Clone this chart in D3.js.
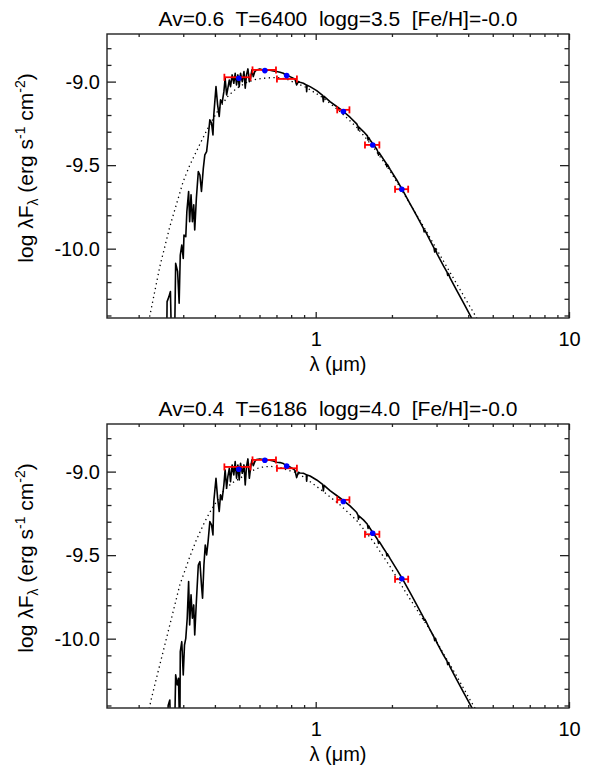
<!DOCTYPE html>
<html>
<head>
<meta charset="utf-8">
<script src="https://cdn.jsdelivr.net/npm/d3@7"></script>
<style>
  body { margin: 0; background: #fff; }
  svg { display: block; font-family: "Liberation Sans", Arial, Helvetica, sans-serif; }
</style>
</head>
<body>
<div id="chart"></div>
<script>
// ---- values ----
const titles = [
  "Av=0.6  T=6400  logg=3.5  [Fe/H]=-0.0",
  "Av=0.4  T=6186  logg=4.0  [Fe/H]=-0.0"
];

// model spectrum, [lambda (um), log lambda F_lambda]
const specTop = [
  [0.258,-10.6],[0.259,-10.317],[0.263,-10.29],[0.267,-10.257],[0.270,-10.6],
  [0.277,-10.6],[0.280,-10.088],[0.285,-10.137],[0.289,-10.327],[0.292,-10.038],[0.296,-9.978],[0.300,-10.058],
  [0.302,-9.918],[0.307,-9.928],[0.310,-9.778],[0.315,-9.658],[0.318,-9.838],[0.322,-9.678],[0.326,-9.838],
  [0.330,-9.738],[0.333,-9.888],[0.338,-9.698],[0.344,-9.539],[0.349,-9.559],[0.354,-9.658],[0.360,-9.519],
  [0.365,-9.439],[0.371,-9.419],[0.376,-9.339],[0.382,-9.229],[0.388,-9.249],[0.393,-9.319],[0.396,-9.199],
  [0.404,-9.030],[0.410,-9.139],[0.416,-9.209],[0.421,-9.109],[0.427,-9.129],[0.434,-9.060],[0.439,-8.980],
  [0.445,-9.080],[0.450,-9.040],[0.456,-8.990],[0.461,-9.030],[0.468,-8.960],[0.475,-9.010],[0.481,-8.950],
  [0.487,-9.020],[0.493,-8.960],[0.499,-9.030],[0.505,-8.950],[0.513,-9.000],[0.521,-8.940],[0.527,-9.040],
  [0.533,-8.960],[0.540,-8.924],[0.547,-9.000],[0.553,-8.980],[0.560,-8.930],[0.567,-8.970],[0.575,-8.940],
  [0.584,-8.930],[0.602,-8.924],[0.621,-8.930],[0.640,-8.930],[0.660,-8.932],[0.680,-8.936],[0.701,-8.940],
  [0.723,-8.944],[0.745,-8.950],[0.768,-8.964],[0.791,-8.970],[0.816,-8.980],[0.828,-8.984],[0.841,-9.020],
  [0.854,-9.000],[0.867,-9.004],[0.894,-9.010],[0.918,-9.020],[0.921,-9.060],[0.925,-9.022],[0.950,-9.030],
  [1.009,-9.054],[1.065,-9.082],[1.072,-9.120],[1.079,-9.088],[1.139,-9.120],[1.210,-9.149],[1.286,-9.179],
  [1.366,-9.213],[1.452,-9.253],[1.470,-9.270],[1.475,-9.290],[1.480,-9.272],[1.543,-9.299],[1.600,-9.325],
  [1.610,-9.350],[1.620,-9.335],[1.639,-9.349],[1.742,-9.405],[1.760,-9.420],[1.770,-9.440],[1.780,-9.425],
  [1.851,-9.465],[1.900,-9.490],[1.910,-9.510],[1.920,-9.497],[1.967,-9.525],[2.089,-9.589],[2.220,-9.658],
  [2.359,-9.732],[2.506,-9.804],[2.663,-9.878],[2.680,-9.900],[2.700,-9.890],[2.830,-9.952],[2.930,-9.995],
  [2.950,-10.020],[2.970,-10.000],[3.007,-10.028],[3.195,-10.103],[3.300,-10.140],[3.320,-10.160],[3.340,-10.148],
  [3.395,-10.177],[3.607,-10.251],[3.833,-10.325],[4.073,-10.399],[4.170,-10.429],[4.400,-10.500]
];

const specBot = [
  [0.260,-10.6],[0.2615,-10.40],[0.2655,-10.367],[0.268,-10.6],
  [0.277,-10.6],[0.280,-10.217],[0.284,-10.277],[0.2873,-10.237],[0.2908,-10.6],
  [0.292,-10.078],[0.296,-10.018],[0.300,-10.217],[0.3034,-10.038],[0.307,-9.998],[0.311,-9.878],[0.315,-9.658],
  [0.318,-9.918],[0.322,-9.738],[0.326,-9.878],[0.330,-9.798],[0.333,-9.978],[0.338,-9.778],[0.344,-9.559],
  [0.349,-9.539],[0.354,-9.678],[0.3575,-9.758],[0.362,-9.559],[0.3664,-9.439],[0.371,-9.499],[0.376,-9.419],
  [0.382,-9.299],[0.388,-9.319],[0.393,-9.379],[0.396,-9.179],[0.404,-9.040],[0.410,-9.159],[0.416,-9.239],
  [0.421,-9.139],[0.427,-9.169],[0.434,-9.080],[0.439,-8.990],[0.445,-9.099],[0.450,-9.030],[0.456,-8.980],
  [0.461,-9.060],[0.468,-8.960],[0.475,-9.020],[0.481,-8.940],[0.487,-9.040],[0.493,-8.960],[0.499,-9.050],
  [0.505,-8.950],[0.513,-9.010],[0.521,-8.960],[0.527,-9.080],[0.533,-8.970],[0.540,-8.924],[0.547,-9.040],
  [0.553,-8.980],[0.560,-8.930],[0.567,-8.964],[0.575,-8.940],[0.584,-8.928],[0.602,-8.924],[0.621,-8.928],
  [0.640,-8.928],[0.660,-8.932],[0.680,-8.936],[0.701,-8.944],[0.723,-8.946],[0.745,-8.952],[0.768,-8.964],
  [0.791,-8.972],[0.816,-8.984],[0.828,-8.992],[0.841,-9.036],[0.854,-9.004],[0.867,-9.008],[0.894,-9.010],
  [0.918,-9.018],[0.921,-9.058],[0.925,-9.020],[0.950,-9.026],[1.009,-9.050],[1.065,-9.076],[1.072,-9.115],
  [1.079,-9.082],[1.139,-9.114],[1.210,-9.143],[1.286,-9.173],[1.366,-9.205],[1.452,-9.245],[1.470,-9.262],
  [1.475,-9.285],[1.480,-9.265],[1.543,-9.289],[1.600,-9.315],[1.610,-9.340],[1.620,-9.325],[1.639,-9.341],
  [1.742,-9.399],[1.760,-9.410],[1.770,-9.430],[1.780,-9.418],[1.851,-9.459],[1.900,-9.485],[1.910,-9.505],
  [1.920,-9.492],[1.967,-9.521],[2.089,-9.585],[2.220,-9.652],[2.359,-9.724],[2.506,-9.798],[2.663,-9.872],
  [2.680,-9.890],[2.700,-9.884],[2.830,-9.948],[2.930,-9.990],[2.950,-10.012],[2.970,-9.998],[3.007,-10.024],
  [3.195,-10.098],[3.300,-10.135],[3.320,-10.155],[3.340,-10.143],[3.395,-10.171],[3.607,-10.247],[3.833,-10.321],
  [4.073,-10.395],[4.170,-10.423],[4.400,-10.500]
];

// dotted comparison curve
const bbTop = [
  [0.221,-10.407],[0.2424,-10.108],[0.2655,-9.868],[0.2997,-9.599],[0.3185,-9.499],[0.3488,-9.375],
  [0.3821,-9.255],[0.4184,-9.155],[0.4516,-9.085],[0.4871,-9.040],[0.5335,-9.005],[0.584,-8.985],
  [0.640,-8.978],[0.701,-8.975],[0.768,-8.985],[0.791,-8.994],[0.921,-9.036],[1.072,-9.098],[1.247,-9.179],
  [1.452,-9.273],[1.690,-9.393],[1.967,-9.535],[2.345,-9.726],[2.690,-9.878],[3.067,-10.028],[3.498,-10.177],
  [3.987,-10.325],[4.328,-10.417],[4.500,-10.470]
];

const bbBot = [
  [0.2200,-10.42],[0.2247,-10.357],[0.2351,-10.237],[0.2498,-10.078],[0.2655,-9.918],[0.2908,-9.678],
  [0.3185,-9.509],[0.338,-9.409],[0.365,-9.299],[0.388,-9.225],[0.4314,-9.119],[0.4655,-9.070],[0.5022,-9.040],
  [0.5499,-9.000],[0.602,-8.975],[0.660,-8.968],[0.720,-8.975],[0.791,-8.995],[0.841,-9.005],[0.921,-9.045],
  [1.072,-9.119],[1.247,-9.199],[1.452,-9.293],[1.690,-9.419],[1.967,-9.569],[2.288,-9.732],[2.663,-9.888],
  [2.830,-9.948],[3.195,-10.090],[3.607,-10.225],[4.073,-10.368],[4.290,-10.425],[4.500,-10.490]
];

// photometry: filter centres and widths
const filterLam = [0.497, 0.630, 0.768, 1.286, 1.679, 2.187];
const filterLo  = [0.436, 0.563, 0.703, 1.216, 1.565, 2.057];
const filterHi  = [0.553, 0.697, 0.843, 1.359, 1.784, 2.318];
const obsTop = [-8.974, -8.930, -8.984, -9.169, -9.379, -9.644];
const modTop = [-8.980, -8.934, -8.964, -9.179, -9.379, -9.644];
const obsBot = [-8.972, -8.930, -8.980, -9.169, -9.375, -9.644];
const modBot = [-8.986, -8.932, -8.966, -9.179, -9.369, -9.642];

// axes
const xDomain = [0.15, 10];
const yDomain = [-10.415, -8.715];
const xMajor = [1, 10];
const xMinor = [0.2, 0.3, 0.4, 0.5, 0.6, 0.7, 0.8, 0.9, 2, 3, 4, 5, 6, 7, 8, 9];
const yMajor = [-10.0, -9.5, -9.0];
const yMinor = [-10.4, -10.3, -10.2, -10.1, -9.9, -9.8, -9.7, -9.6, -9.4, -9.3, -9.2, -9.1, -8.9, -8.8];

// ---- layout ----
const width = 594, height = 766;
const plotLeft = 107, plotRight = 569, plotH = 284;
const panels = [
  { top: 34,  title: titles[0], spec: specTop, bb: bbTop, obs: obsTop, mod: modTop },
  { top: 424, title: titles[1], spec: specBot, bb: bbBot, obs: obsBot, mod: modBot }
];

const svg = d3.select("#chart").append("svg")
  .attr("width", width)
  .attr("height", height);

const xScale = d3.scaleLog().domain(xDomain).range([plotLeft, plotRight]);

panels.forEach((p, i) => {
  const yScale = d3.scaleLinear().domain(yDomain).range([p.top + plotH, p.top]);
  const g = svg.append("g");

  g.append("clipPath").attr("id", "clip" + i)
    .append("rect")
    .attr("x", plotLeft).attr("y", p.top)
    .attr("width", plotRight - plotLeft).attr("height", plotH);

  const line = d3.line().x(d => xScale(d[0])).y(d => yScale(d[1]));
  const plot = g.append("g").attr("clip-path", `url(#clip${i})`);

  plot.append("path")
    .datum(p.bb)
    .attr("d", line)
    .attr("fill", "none")
    .attr("stroke", "#000")
    .attr("stroke-width", 1.3)
    .attr("stroke-dasharray", "1.3,3.4");

  plot.append("path")
    .datum(p.spec)
    .attr("d", line)
    .attr("fill", "none")
    .attr("stroke", "#000")
    .attr("stroke-width", 1.6)
    .attr("stroke-linejoin", "round");

  // observed fluxes with filter widths
  const bars = plot.selectAll(".bar").data(filterLam).join("g").attr("class", "bar");
  bars.append("line")
    .attr("x1", (d, k) => xScale(filterLo[k]))
    .attr("x2", (d, k) => xScale(filterHi[k]))
    .attr("y1", (d, k) => yScale(p.obs[k]))
    .attr("y2", (d, k) => yScale(p.obs[k]));
  bars.append("line")
    .attr("x1", (d, k) => xScale(filterLo[k]))
    .attr("x2", (d, k) => xScale(filterLo[k]))
    .attr("y1", (d, k) => yScale(p.obs[k]) - 3.5)
    .attr("y2", (d, k) => yScale(p.obs[k]) + 3.5);
  bars.append("line")
    .attr("x1", (d, k) => xScale(filterHi[k]))
    .attr("x2", (d, k) => xScale(filterHi[k]))
    .attr("y1", (d, k) => yScale(p.obs[k]) - 3.5)
    .attr("y2", (d, k) => yScale(p.obs[k]) + 3.5);
  bars.selectAll("line").attr("stroke", "#f00").attr("stroke-width", 1.8);

  // model fluxes
  plot.selectAll(".mod").data(filterLam).join("circle")
    .attr("class", "mod")
    .attr("cx", d => xScale(d))
    .attr("cy", (d, k) => yScale(p.mod[k]))
    .attr("r", 2.8)
    .attr("fill", "#00f");

  // axes, ticks pointing inward
  const bottom = p.top + plotH;
  const fmtY = d => d.toFixed(1);
  g.append("g").attr("transform", `translate(0,${bottom})`)
    .call(d3.axisBottom(xScale).tickValues(xMajor).tickSize(-6).tickPadding(14).tickFormat(d3.format("d")));
  g.append("g").attr("transform", `translate(0,${bottom})`)
    .call(d3.axisBottom(xScale).tickValues(xMinor).tickSize(-3).tickFormat(""));
  g.append("g").attr("transform", `translate(0,${p.top})`)
    .call(d3.axisTop(xScale).tickValues(xMajor).tickSize(-6).tickFormat(""));
  g.append("g").attr("transform", `translate(0,${p.top})`)
    .call(d3.axisTop(xScale).tickValues(xMinor).tickSize(-3).tickFormat(""));
  g.append("g").attr("transform", `translate(${plotLeft},0)`)
    .call(d3.axisLeft(yScale).tickValues(yMajor).tickSize(-9).tickPadding(7).tickFormat(fmtY));
  g.append("g").attr("transform", `translate(${plotLeft},0)`)
    .call(d3.axisLeft(yScale).tickValues(yMinor).tickSize(-4.5).tickFormat(""));
  g.append("g").attr("transform", `translate(${plotRight},0)`)
    .call(d3.axisRight(yScale).tickValues(yMajor).tickSize(-9).tickFormat(""));
  g.append("g").attr("transform", `translate(${plotRight},0)`)
    .call(d3.axisRight(yScale).tickValues(yMinor).tickSize(-4.5).tickFormat(""));

  g.selectAll(".domain").remove();
  g.selectAll(".tick line").attr("stroke", "#222").attr("stroke-width", 1.3);
  g.selectAll(".tick text")
    .attr("fill", "#000")
    .style("font-size", "20px")
    .style("font-family", "'Liberation Sans', Arial, sans-serif");

  g.append("rect")
    .attr("x", plotLeft).attr("y", p.top)
    .attr("width", plotRight - plotLeft).attr("height", plotH)
    .attr("fill", "none")
    .attr("stroke", "#222")
    .attr("stroke-width", 1.4);

  // title
  g.append("text")
    .attr("x", (plotLeft + plotRight) / 2)
    .attr("y", p.top - 8)
    .attr("text-anchor", "middle")
    .style("font-size", "21px")
    .style("white-space", "pre")
    .attr("xml:space", "preserve")
    .text(p.title);

  // x label
  g.append("text")
    .attr("x", (plotLeft + plotRight) / 2)
    .attr("y", bottom + 53)
    .attr("text-anchor", "middle")
    .style("font-size", "20px")
    .text("\u03bb (\u03bcm)");

  // y label
  const yl = g.append("text")
    .attr("transform", `translate(33,${p.top + plotH / 2 - 8}) rotate(-90)`)
    .attr("text-anchor", "middle")
    .style("font-size", "21px");
  yl.append("tspan").text("log \u03bbF");
  yl.append("tspan").attr("dy", 5).style("font-size", "14px").text("\u03bb");
  yl.append("tspan").attr("dy", -5).text(" (erg s");
  yl.append("tspan").attr("dy", -8).style("font-size", "14px").text("-1");
  yl.append("tspan").attr("dy", 8).text(" cm");
  yl.append("tspan").attr("dy", -8).style("font-size", "14px").text("-2");
  yl.append("tspan").attr("dy", 8).text(")");
});
</script>
</body>
</html>
